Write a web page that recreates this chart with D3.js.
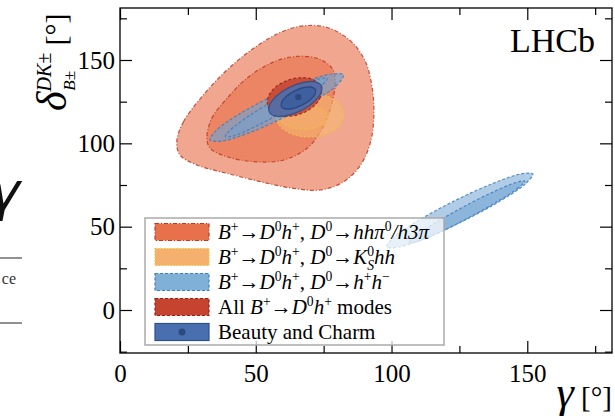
<!DOCTYPE html>
<html>
<head>
<meta charset="utf-8">
<script src="https://cdn.jsdelivr.net/npm/d3@7"></script>
<style>
  html, body { margin: 0; padding: 0; background: #fff; }
  svg { display: block; }
</style>
</head>
<body>
<svg id="chart" width="615" height="420"></svg>
<script>
// ---------------- DATA (gamma [deg], delta [deg]) ----------------
const xMajorTicks = [0, 50, 100, 150];
const xMinorTicks = [25, 75, 125, 175];
const yMajorTicks = [0, 50, 100, 150];
const yMinorTicks = [-25, 25, 75, 125, 175];

// D0 -> hh pi0 / h3pi : 2 sigma and 1 sigma contours
const hhpi0Outer = [[20.9,101.0],[23.4,113.0],[30.7,129.0],[39.4,144.0],[49.2,157.0],[59.0,166.5],[67.6,170.5],[76.3,169.5],[84.9,161.5],[90.4,149.0],[92.9,133.0],[93.5,117.0],[92.3,101.0],[88.6,87.0],[82.4,77.0],[73.8,72.0],[63.9,73.0],[51.7,77.0],[39.4,82.0],[28.3,87.0],[22.1,93.0]];
const hhpi0Inner = [[32.0,103.0],[33.8,115.0],[39.4,127.0],[46.7,139.0],[55.4,148.0],[63.9,152.0],[72.6,151.0],[78.1,145.0],[79.3,137.0],[77.5,121.0],[73.8,107.0],[68.9,97.0],[60.3,90.0],[49.2,89.0],[39.4,92.0],[33.2,97.0]];

// D0 -> KS hh
const kshhOuter = [[82.3,117.0],[80.6,110.4],[76.0,105.5],[69.7,103.8],[63.5,105.5],[58.9,110.4],[57.2,117.0],[58.9,123.6],[63.5,128.5],[69.7,130.2],[76.0,128.5],[80.6,123.6]];
const kshhInner = [[76.4,115.8],[75.2,112.2],[72.0,109.6],[67.5,108.6],[63.1,109.6],[59.9,112.2],[58.7,115.8],[59.9,119.4],[63.1,122.0],[67.5,123.0],[72.0,122.0],[75.2,119.4]];

// D0 -> h+h- (two islands)
const hhUpperOuter = [[82.3,141.0],[80.0,135.1],[71.7,125.6],[59.7,115.0],[47.2,106.1],[37.5,101.4],[33.2,102.0],[35.5,107.9],[43.8,117.4],[55.8,128.0],[68.3,136.9],[78.0,141.6]];
const hhUpperInner = [[76.3,139.0],[74.4,134.9],[68.0,127.1],[58.8,117.8],[49.3,109.6],[41.9,104.5],[38.8,104.0],[40.7,108.1],[47.0,115.9],[56.2,125.2],[65.8,133.4],[73.1,138.5]];
const hhLowerOuter = [[152.0,81.6],[149.3,75.7],[140.1,65.5],[126.9,53.8],[113.2,43.6],[102.7,37.8],[98.2,37.8],[100.8,43.7],[110.0,53.8],[123.3,65.6],[137.0,75.7],[147.5,81.6]];
const hhLowerInner = [[149.1,77.4],[146.7,73.3],[139.3,65.3],[128.7,55.6],[117.9,46.7],[109.7,41.2],[106.3,40.2],[108.6,44.3],[116.1,52.3],[126.6,62.0],[137.5,70.9],[145.7,76.4]];

// All B+ -> D0 h+ modes
const allDhOuter = [[73.9,133.6],[73.8,127.7],[71.1,121.9],[66.5,117.7],[61.3,116.2],[56.9,117.7],[54.5,122.0],[54.6,127.9],[57.3,133.7],[61.9,137.9],[67.1,139.4],[71.5,137.9]];

// Beauty and Charm
const bcOuter = [[74.2,134.4],[73.9,129.9],[71.2,124.5],[66.7,119.6],[61.6,116.7],[57.3,116.3],[55.0,118.8],[55.2,123.3],[57.9,128.7],[62.4,133.6],[67.5,136.5],[71.8,136.9]];
const bcInner = [[72.0,132.3],[71.8,129.5],[70.0,126.0],[67.0,122.9],[63.7,120.9],[60.9,120.6],[59.4,122.1],[59.6,124.9],[61.4,128.4],[64.4,131.5],[67.7,133.5],[70.4,133.8]];
const bcCentral = [65.7, 127.8];

const legendLabels = [
  [{t:"B",i:1},{t:"+",sup:1},{t:"→"},{t:"D",i:1},{t:"0",sup:1},{t:"h",i:1},{t:"+",sup:1},{t:", "},{t:"D",i:1},{t:"0",sup:1},{t:"→"},{t:"hhπ",i:1},{t:"0",sup:1},{t:"/h3π",i:1}],
  [{t:"B",i:1},{t:"+",sup:1},{t:"→"},{t:"D",i:1},{t:"0",sup:1},{t:"h",i:1},{t:"+",sup:1},{t:", "},{t:"D",i:1},{t:"0",sup:1},{t:"→"},{t:"K",i:1},{t:"0",sup:1},{t:"S",sub:1,i:1,back:1},{t:"hh",i:1}],
  [{t:"B",i:1},{t:"+",sup:1},{t:"→"},{t:"D",i:1},{t:"0",sup:1},{t:"h",i:1},{t:"+",sup:1},{t:", "},{t:"D",i:1},{t:"0",sup:1},{t:"→"},{t:"h",i:1},{t:"+",sup:1},{t:"h",i:1},{t:"−",sup:1}],
  [{t:"All "},{t:"B",i:1},{t:"+",sup:1},{t:"→"},{t:"D",i:1},{t:"0",sup:1},{t:"h",i:1},{t:"+",sup:1},{t:" modes"}],
  [{t:"Beauty and Charm"}]
];

// ---------------- STYLES ----------------
const serif = "'Liberation Serif','Times New Roman',serif";
const legendStyles = [
  {fill:"#e8714b", stroke:"#b83a22", dash:"4,2,1,2", dot:false},
  {fill:"#f4b06c", stroke:"#f0c43c", dash:"1.5,1.5", dot:false},
  {fill:"#7fb0d6", stroke:"#3f7fb8", dash:"3,2", dot:false},
  {fill:"#c6432f", stroke:"#8c2418", dash:"3,2", dot:false},
  {fill:"#4a6fae", stroke:"#2f4f8a", dash:null, dot:true}
];

const svg = d3.select("#chart");
const x = d3.scaleLinear().domain([0, 181.2]).range([120, 612]);
const y = d3.scaleLinear().domain([-25.8, 181.2]).range([353, 8]);

// ---------------- left-edge fragments of neighbouring slide ----------------
svg.append("text").attr("x", -12).attr("y", 210).attr("font-family","'DejaVu Sans',sans-serif")
  .attr("font-style","italic").attr("font-size", 54).attr("fill","#111").text("γ");
svg.append("line").attr("x1",0).attr("x2",22).attr("y1",258).attr("y2",258).attr("stroke","#555").attr("stroke-width",1.3);
svg.append("line").attr("x1",0).attr("x2",22).attr("y1",323).attr("y2",323).attr("stroke","#555").attr("stroke-width",1.3);
svg.append("text").attr("x", 16).attr("y", 284).attr("text-anchor","end").attr("font-family",serif)
  .attr("font-size", 16).attr("fill","#333").text("ce");

// ---------------- contours ----------------
const line = d3.line().x(d => x(d[0])).y(d => y(d[1])).curve(d3.curveCatmullRomClosed.alpha(0.5));
const plot = svg.append("g");
function contour(pts, fill, op, stroke, dash, sw) {
  plot.append("path").attr("d", line(pts)).attr("fill", fill).attr("fill-opacity", op)
    .attr("stroke", stroke).attr("stroke-width", sw || 1.2)
    .attr("stroke-dasharray", dash).attr("stroke-opacity", 0.85);
}
contour(hhpi0Outer, "#e8714b", 0.62, "#b83a22", "4,2,1,2");
contour(hhpi0Inner, "#e8714b", 0.62, "#b83a22", "4,2,1,2");
contour(kshhOuter, "#f6b872", 0.6, "#f0c43c", "2,2");
contour(kshhInner, "#f4b06c", 0.5, "#f0c43c", "2,2");
contour(hhUpperOuter, "#6fa3d2", 0.66, "#3f7fb8", "3,2");
contour(hhUpperInner, "#6fa3d2", 0.55, "#3f7fb8", "3,2");
contour(hhLowerOuter, "#6fa3d2", 0.55, "#3f7fb8", "3,2");
contour(hhLowerInner, "#6fa3d2", 0.55, "#3f7fb8", "3,2");
contour(allDhOuter, "#c6432f", 0.85, "#8c2418", "3,2");
contour(bcOuter, "#4a6fae", 0.88, "#2f4f8a", null, 1.3);
contour(bcInner, "#3c5f9f", 0.9, "#244380", null, 1.3);
plot.append("circle").attr("cx", x(bcCentral[0])).attr("cy", y(bcCentral[1])).attr("r", 3.2).attr("fill", "#2b4a80");

// ---------------- axes ----------------
function styleAxis(g) {
  g.select(".domain").remove();
  g.selectAll(".tick line").attr("stroke","#000").attr("stroke-width",1.2);
  g.selectAll("text").attr("font-family", serif).attr("font-size", 25).attr("fill","#000");
}
svg.append("g").attr("transform","translate(0,353)")
  .call(d3.axisBottom(x).tickValues(xMajorTicks).tickSize(-12).tickPadding(11).tickFormat(d3.format("d"))).call(styleAxis);
svg.append("g").attr("transform","translate(0,353)")
  .call(d3.axisBottom(x).tickValues(xMinorTicks).tickSize(-7).tickFormat("")).call(styleAxis);
svg.append("g").attr("transform","translate(0,8)")
  .call(d3.axisTop(x).tickValues(xMajorTicks).tickSize(-12).tickFormat("")).call(styleAxis);
svg.append("g").attr("transform","translate(0,8)")
  .call(d3.axisTop(x).tickValues(xMinorTicks).tickSize(-7).tickFormat("")).call(styleAxis);
svg.append("g").attr("transform","translate(120,0)")
  .call(d3.axisLeft(y).tickValues(yMajorTicks).tickSize(-12).tickPadding(5).tickFormat(d3.format("d"))).call(styleAxis);
svg.append("g").attr("transform","translate(120,0)")
  .call(d3.axisLeft(y).tickValues(yMinorTicks).tickSize(-7).tickFormat("")).call(styleAxis);
svg.append("g").attr("transform","translate(612,0)")
  .call(d3.axisRight(y).tickValues(yMajorTicks).tickSize(-12).tickFormat("")).call(styleAxis);
svg.append("g").attr("transform","translate(612,0)")
  .call(d3.axisRight(y).tickValues(yMinorTicks).tickSize(-7).tickFormat("")).call(styleAxis);

svg.append("rect").attr("x",120).attr("y",8).attr("width",492).attr("height",345)
  .attr("fill","none").attr("stroke","#000").attr("stroke-width",1.3);

// ---------------- LHCb ----------------
svg.append("text").attr("x",595).attr("y",52).attr("text-anchor","end").attr("font-family",serif)
  .attr("font-size",34).attr("fill","#000").text("LHCb");

// ---------------- axis titles ----------------
const xt = svg.append("text").attr("x",612).attr("y",407).attr("text-anchor","end").attr("font-family",serif).attr("fill","#000");
xt.append("tspan").attr("font-style","italic").attr("font-size",44).text("γ");
xt.append("tspan").attr("font-size",29).text(" [°]");

const yt = svg.append("g").attr("transform","translate(66,111) rotate(-90)")
  .append("text").attr("x",0).attr("y",0).attr("font-family",serif).attr("fill","#000");
yt.append("tspan").attr("font-style","italic").attr("font-size",42).text("δ");
yt.append("tspan").attr("font-style","italic").attr("font-size",20).attr("dy",-15).text("DK±");
yt.append("tspan").attr("font-style","italic").attr("font-size",17).attr("dx",-38).attr("dy",24).text("B±");
yt.append("tspan").attr("font-size",30).attr("dx",18).attr("dy",-9).text(" [°]");

// ---------------- legend ----------------
const leg = svg.append("g");
leg.append("rect").attr("x",145).attr("y",218).attr("width",299).attr("height",127)
  .attr("fill","#fff").attr("fill-opacity",0.72).attr("stroke","#aaa").attr("stroke-width",1.5);
const rowY = d3.scalePoint().domain(d3.range(legendLabels.length)).range([232, 332]);
const fs = 21;
legendLabels.forEach((segs, i) => {
  const st = legendStyles[i];
  const cy = rowY(i);
  leg.append("rect").attr("x",155).attr("y",cy-8.5).attr("width",54).attr("height",17)
    .attr("fill",st.fill).attr("stroke",st.stroke).attr("stroke-width",1.2).attr("stroke-dasharray",st.dash);
  if (st.dot) leg.append("circle").attr("cx",182).attr("cy",cy).attr("r",3.5).attr("fill","#2b4a80");
  const t = leg.append("text").attr("x",218).attr("y",cy+7).attr("font-family",serif).attr("font-size",fs).attr("fill","#000");
  let shift = 0;
  segs.forEach(s => {
    const sp = t.append("tspan").text(s.t);
    const target = s.sup ? -0.4*fs : (s.sub ? 0.28*fs : 0);
    sp.attr("dy", target - shift);
    shift = target;
    if (s.sup || s.sub) sp.attr("font-size", fs*0.65);
    if (s.i) sp.attr("font-style","italic");
    if (s.back) sp.attr("dx", -fs*0.65*0.5);
  });
});
</script>
</body>
</html>
